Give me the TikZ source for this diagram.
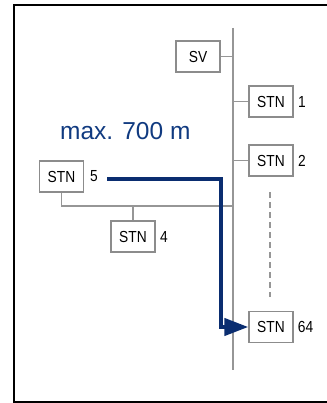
\documentclass[tikz,border=0pt]{standalone}
\usepackage{fontspec}
\setmainfont{Liberation Sans}[FakeStretch=0.86]
\newfontfamily\bigfont{Liberation Sans}
\usetikzlibrary{arrows.meta,calc}
\definecolor{navy}{RGB}{10,45,112}
\definecolor{textnavy}{RGB}{16,58,128}
\definecolor{linegray}{RGB}{150,150,150}
\definecolor{boxgray}{RGB}{140,140,140}
\tikzset{
  stnbox/.style={draw=boxgray, line width=1.3pt, fill=white, minimum width=44pt, minimum height=31pt, inner sep=0pt, font=\fontsize{16}{16}\selectfont},
  numlabel/.style={inner sep=0pt, font=\fontsize{16}{16}\selectfont},
  busline/.style={draw=linegray, line width=1.5pt},
  dashline/.style={draw=linegray, line width=1.2pt, dash pattern=on 6pt off 4pt},
  bluepath/.style={draw=navy, line width=4.2pt, line join=miter, -{Triangle[length=24pt,width=17pt]}},
  frame/.style={draw=black, line width=2pt}
}
\begin{document}
\begin{tikzpicture}[x=1pt,y=-1pt]
\useasboundingbox (0,0) rectangle (326,403);
\draw[frame] (14,5) rectangle (345,401.5);
% bus
\coordinate (bustop) at (233,28);
\coordinate (busbot) at (233,370);
\coordinate (join) at (233,206);
\draw[busline] (bustop) -- (busbot);
% nodes
\node[stnbox] (SV) at (198,56.5) {SV};
\node[stnbox] (S1) at (271,101.5) {STN};
\node[stnbox] (S2) at (271,160.5) {STN};
\node[stnbox] (S5) at (61.5,176.5) {STN};
\node[stnbox] (S4) at (133,236.5) {STN};
\node[stnbox] (S64) at (271,327) {STN};
\node[numlabel] (L1) at (302,101.5) {1};
\node[numlabel] (L2) at (302,160.5) {2};
\node[numlabel] (L5) at (94,176.5) {5};
\node[numlabel] (L4) at (164,236.5) {4};
\node[numlabel] (L64) at (305.5,327) {64};
% connectors
\draw[busline] (SV.east) -- (SV.east -| bustop);
\draw[busline] (S1.west) -- (S1.west -| bustop);
\draw[busline] (S2.west) -- (S2.west -| bustop);
\draw[busline] (S5.south) |- (join);
\draw[busline] (S4.north) -- (S4.north |- join);
% dashed continuation
\coordinate (dtop) at (270,192);
\coordinate (dbot) at (270,297);
\draw[dashline] (dtop) -- (dbot);
% distance
\node[inner sep=0pt, text=textnavy, font=\bigfont\fontsize{24.5}{24.5}\selectfont, anchor=base west] (dist) at (60,140) {max. 700 m};
\coordinate (start) at (107,179);
\coordinate (corner) at (221,327);
\draw[bluepath] (start) -| (corner) -- (S64.west);
\end{tikzpicture}
\end{document}
